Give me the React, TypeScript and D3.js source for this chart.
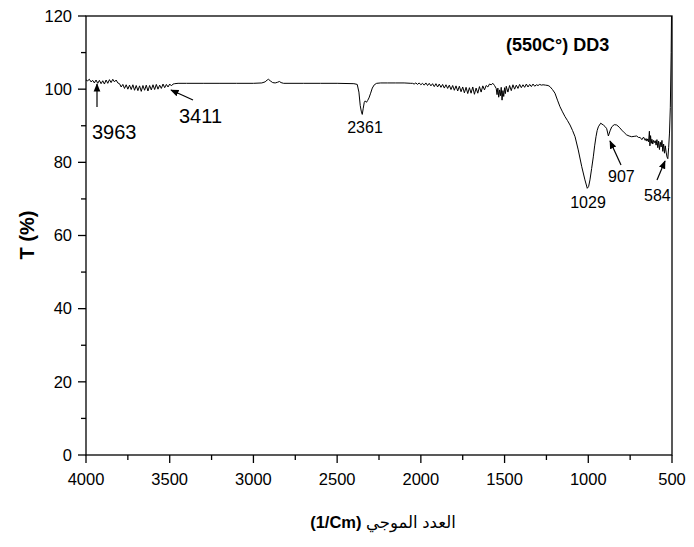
import React from "react";
import * as d3 from "d3";

// Wavenumber (cm^-1) and transmittance (%)
const wavenumbers: number[] = [
  4000, 3990, 3980, 3970, 3960, 3950, 3940, 3930, 3920, 3910, 3900, 3890, 3880, 3870, 3860, 3850, 3840, 3830, 3820, 3810,
  3800, 3790, 3780, 3770, 3760, 3750, 3740, 3730, 3720, 3710, 3700, 3690, 3680, 3670, 3660, 3650, 3640, 3630, 3620, 3610,
  3600, 3590, 3580, 3570, 3560, 3550, 3540, 3530, 3520, 3510, 3500, 3490, 3480, 3470, 3450, 3400, 3300, 3200, 3100, 3000,
  2950, 2930, 2918, 2910, 2900, 2885, 2870, 2855, 2845, 2835, 2820, 2700, 2600, 2500, 2400, 2380, 2370, 2362, 2356, 2350,
  2344, 2338, 2332, 2325, 2318, 2310, 2300, 2290, 2278, 2264, 2240, 2200, 2150, 2100, 2060,
  2050, 2040, 2030, 2020, 2010, 2000, 1990, 1980, 1970, 1960, 1950, 1940, 1930, 1920, 1910, 1900, 1890, 1880, 1870, 1860,
  1850, 1840, 1830, 1820, 1810, 1800, 1790, 1780, 1770, 1760, 1750, 1740, 1730, 1720, 1710, 1700, 1690, 1680, 1670, 1660,
  1650, 1640, 1630, 1620, 1610, 1600, 1590, 1580, 1570, 1560, 1550, 1545, 1540, 1535, 1530, 1525, 1520, 1515, 1510, 1505,
  1500, 1495, 1490, 1480, 1470, 1460, 1450, 1440, 1430, 1420, 1410, 1400, 1390, 1380, 1370, 1360, 1350, 1340, 1330, 1320,
  1310, 1300, 1290, 1280, 1270, 1255, 1240, 1229, 1214, 1199, 1184, 1169, 1154, 1139, 1124, 1109, 1094, 1079, 1060, 1039,
  1020, 1006, 998, 990, 980, 970, 962, 954, 947, 940, 926, 910, 900, 890, 880, 870, 860, 845, 830, 815,
  800, 785, 771, 756, 741, 726, 711, 700, 690, 680, 670, 660, 655, 650, 645, 640, 635, 632, 628, 624,
  620, 615, 610, 605, 600, 595, 590, 585, 580, 575, 570, 565, 560, 555, 550, 545, 540, 535, 530, 525,
  520, 515, 510, 505, 502, 500,
];

const transmittance: number[] = [
  102.5, 102.3, 102.7, 102.0, 102.4, 101.7, 102.5, 101.6, 102.4, 101.5, 102.3, 101.4, 102.5, 101.6, 102.6, 101.8, 102.7, 102.0, 102.5, 101.7,
  101.5, 100.6, 101.3, 100.2, 101.2, 100.0, 101.1, 99.9, 101.2, 99.7, 101.0, 99.6, 100.9, 99.4, 101.0, 99.7, 101.1, 99.5, 101.0, 99.8,
  101.2, 99.9, 101.3, 100.0, 101.1, 100.2, 101.4, 100.4, 101.3, 100.6, 101.4, 100.9, 101.4, 101.5, 101.6, 101.6, 101.6, 101.6, 101.6, 101.6,
  101.7, 102.0, 102.5, 102.7, 102.3, 101.8, 101.7, 101.9, 102.1, 101.8, 101.6, 101.6, 101.6, 101.6, 101.5, 101.3, 99.2, 95.5, 94.0, 93.1,
  94.8, 96.4, 96.8, 96.4, 96.9, 97.6, 98.9, 100.3, 101.2, 101.6, 101.7, 101.7, 101.7, 101.7, 101.6,
  101.6, 101.4, 101.7, 101.3, 101.7, 101.2, 101.6, 101.1, 101.7, 101.0, 101.6, 100.9, 101.5, 100.7, 101.5, 100.6, 101.4, 100.5, 101.3, 100.3,
  101.2, 100.2, 101.1, 99.9, 101.0, 99.7, 100.9, 99.5, 100.8, 99.3, 100.6, 99.0, 100.5, 98.8, 100.4, 98.9, 100.6, 98.6, 100.3, 98.9,
  100.7, 99.2, 100.9, 99.8, 101.0, 100.6, 101.4, 101.2, 101.6, 101.0, 100.2, 98.5, 100.3, 97.8, 99.8, 98.2, 100.5, 97.0, 99.6, 98.0,
  100.4, 98.8, 100.8, 99.2, 101.0, 99.6, 101.2, 100.0, 101.1, 100.2, 101.3, 100.4, 101.2, 100.5, 101.4, 100.6, 101.3, 100.7, 101.4, 100.8,
  101.2, 101.0, 101.3, 101.1, 101.2, 101.1, 101.0, 100.7, 99.9, 98.9, 97.0, 95.2, 93.8, 92.5, 91.4, 90.2, 88.7, 87.0, 83.4, 78.8,
  75.2, 72.9, 73.4, 75.2, 78.3, 81.5, 84.5, 87.0, 88.7, 89.7, 90.7, 90.2, 89.8, 89.2, 87.2, 88.6, 89.7, 90.3, 90.2, 89.6,
  88.8, 88.1, 87.5, 87.2, 87.0, 87.1, 87.2, 86.8, 86.8, 86.2, 86.9, 86.0, 86.5, 85.8, 86.4, 85.6, 88.5, 84.5, 87.3, 85.2,
  86.3, 85.0, 86.0, 85.4, 85.9, 84.7, 86.2, 84.0, 85.8, 83.5, 85.5, 84.2, 86.0, 83.0, 85.0, 82.5, 84.5, 82.8, 81.5, 81.0,
  84.0, 88.0, 95.0, 110.0, 125.0, 130.0,
];

const xTickValues: number[] = [4000, 3500, 3000, 2500, 2000, 1500, 1000, 500];
const xMinorTicks: number[] = [3750, 3250, 2750, 2250, 1750, 1250, 750];
const yTickValues: number[] = [0, 20, 40, 60, 80, 100, 120];
const yMinorTicks: number[] = [10, 30, 50, 70, 90, 110];

const peakLabels: string[] = ["3963", "3411", "2361", "1029", "907", "584"];

const titleText = "(550C°) DD3";
const xTitleUnit = "(1/Cm) ";
const xTitleArabic = "العدد الموجي";
const yTitle = "T (%)";

export default function App() {
  const W = 694;
  const H = 547;
  const left = 86;
  const right = 672;
  const top = 16;
  const bottom = 455;

  const x = d3.scaleLinear().domain([4000, 500]).range([left, right]);
  const y = d3.scaleLinear().domain([0, 120]).range([bottom, top]);

  const data = wavenumbers.map((w, i) => [w, transmittance[i]] as [number, number]);
  const line = d3
    .line<[number, number]>()
    .x((d) => x(d[0]))
    .y((d) => y(d[1]));

  const font = "'Liberation Sans', Arial, 'DejaVu Sans', sans-serif";

  // annotation placements: [label, textX, textY, anchor, fontSize, arrow(x1,y1,x2,y2) or null]
  const ann: Array<[string, number, number, string, number, number[] | null]> = [
    [peakLabels[0], 92, 139, "start", 20, [97, 107, 97, 84]],
    [peakLabels[1], 179, 123, "start", 20, [193, 100, 171, 90]],
    [peakLabels[2], 365, 133, "middle", 16, null],
    [peakLabels[3], 588, 208, "middle", 16, null],
    [peakLabels[4], 608, 182, "start", 16, [621, 165, 610, 141]],
    [peakLabels[5], 644, 201, "start", 16, [657, 180, 665, 161]],
  ];

  return (
    <svg
      width={W}
      height={H}
      style={{ position: "absolute", left: 0, top: 0, background: "#fff" }}
      fontFamily={font}
    >
      <defs>
        <clipPath id="plotclip">
          <rect x={left} y={top} width={right - left} height={bottom - top} />
        </clipPath>
        <marker id="arr" viewBox="0 0 10 10" refX="9" refY="5" markerWidth="7" markerHeight="7" orient="auto">
          <path d="M0,1 L10,5 L0,9 z" fill="#000" />
        </marker>
      </defs>

      {/* frame */}
      <rect x={left} y={top} width={right - left} height={bottom - top} fill="none" stroke="#000" strokeWidth={1.3} />

      {/* x ticks */}
      {xTickValues.map((v) => (
        <g key={"xt" + v}>
          <line x1={x(v)} x2={x(v)} y1={bottom} y2={bottom + 8} stroke="#000" strokeWidth={1.3} />
          <text x={x(v)} y={485} textAnchor="middle" fontSize={16.5}>
            {v}
          </text>
        </g>
      ))}
      {xMinorTicks.map((v) => (
        <line key={"xm" + v} x1={x(v)} x2={x(v)} y1={bottom} y2={bottom + 5} stroke="#000" strokeWidth={1.3} />
      ))}

      {/* y ticks */}
      {yTickValues.map((v) => (
        <g key={"yt" + v}>
          <line x1={left - 8} x2={left} y1={y(v)} y2={y(v)} stroke="#000" strokeWidth={1.3} />
          <text x={72} y={y(v)} dy="0.35em" textAnchor="end" fontSize={16.5}>
            {v}
          </text>
        </g>
      ))}
      {yMinorTicks.map((v) => (
        <line key={"ym" + v} x1={left - 5} x2={left} y1={y(v)} y2={y(v)} stroke="#000" strokeWidth={1.3} />
      ))}

      {/* spectrum */}
      <path d={line(data) || ""} fill="none" stroke="#000" strokeWidth={1} clipPath="url(#plotclip)" />

      {/* annotations */}
      {ann.map(([t, tx, ty, anchor, fs, arrow]) => (
        <g key={"a" + t}>
          {arrow && (
            <line
              x1={arrow[0]}
              y1={arrow[1]}
              x2={arrow[2]}
              y2={arrow[3]}
              stroke="#000"
              strokeWidth={1.2}
              markerEnd="url(#arr)"
            />
          )}
          <text x={tx} y={ty} textAnchor={anchor as any} fontSize={fs}>
            {t}
          </text>
        </g>
      ))}

      {/* title */}
      <text x={506} y={51} fontSize={18} fontWeight="bold">
        {titleText}
      </text>

      {/* axis titles */}
      <text x={383} y={528} textAnchor="middle" fontSize={16.5} fontWeight="bold" direction="ltr">
        <tspan>{xTitleUnit}</tspan>
        <tspan fontWeight="normal">{xTitleArabic}</tspan>
      </text>
      <text
        transform={`translate(34,235) rotate(-90)`}
        textAnchor="middle"
        fontSize={20}
        fontWeight="bold"
      >
        {yTitle}
      </text>
    </svg>
  );
}
